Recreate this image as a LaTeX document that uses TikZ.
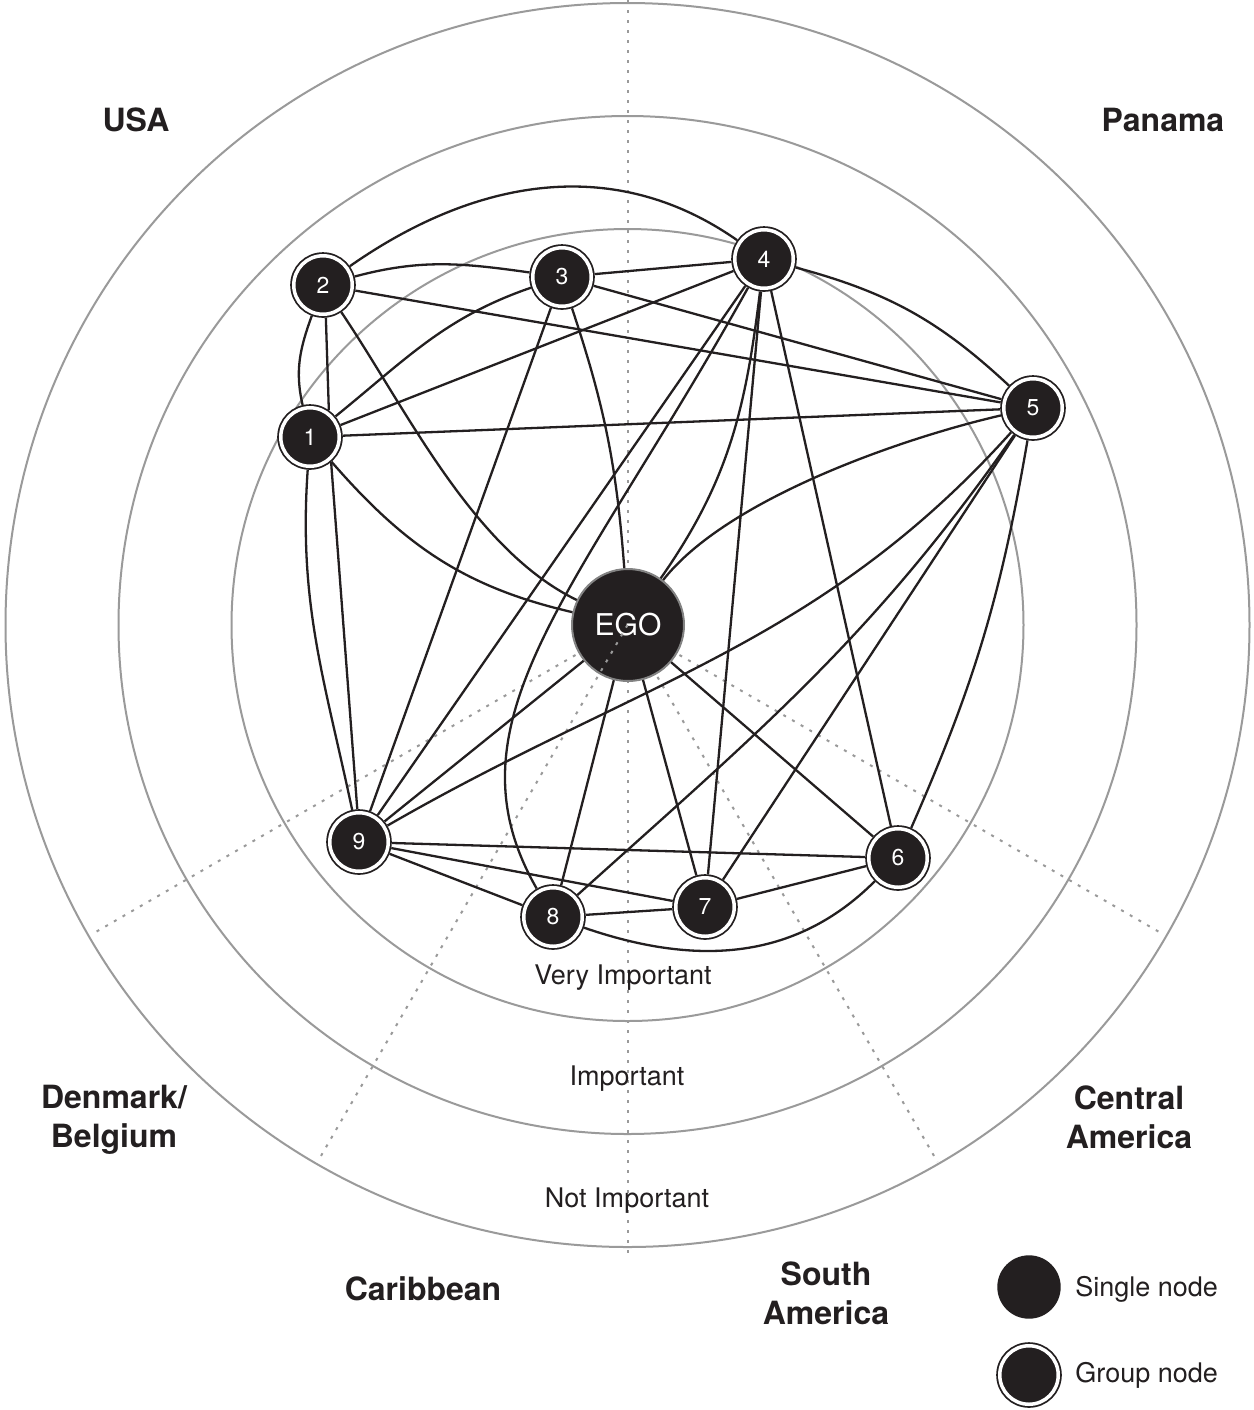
\documentclass[tikz,border=0pt]{standalone}
\usepackage{fontspec}
\setmainfont{TeX Gyre Heros}
\begin{document}
\definecolor{ink}{HTML}{231F20}
\definecolor{zonegray}{HTML}{9A9A9A}
\begin{tikzpicture}[x=0.5pt,y=0.5pt,
  zone/.style={draw=zonegray, line width=1pt},
  sector/.style={draw=zonegray, line width=1pt, dash pattern=on 1.5pt off 3.5pt},
  tie/.style={draw=ink, line width=1.15pt},
  grp/.style={circle, inner sep=0pt, minimum size=29.25pt, fill=ink, draw=ink,
    line width=0.9pt, double=white, double distance=1.75pt, outer sep=1.8pt,
    text=white, font=\fontsize{11.5}{13}\selectfont},
  single/.style={circle, inner sep=0pt, minimum size=31.7pt, fill=ink},
  egonode/.style={circle, inner sep=0pt, minimum size=56pt, fill=ink,
    draw=zonegray!85!black, line width=1pt, text=white, font=\fontsize{15}{18}\selectfont},
  region/.style={text=ink, font=\bfseries\fontsize{16}{19.5}\selectfont, align=center},
  level/.style={text=ink, font=\fontsize{13.5}{16}\selectfont, anchor=base},
  legendtext/.style={text=ink, font=\fontsize{13.5}{16}\selectfont, anchor=base west, inner sep=0pt},
]
% canvas
\path[fill=white, use as bounding box] (0,0) rectangle (1254,-1410);
\coordinate (c) at (627.5,-625);

% importance rings
\draw[zone] (c) circle[radius=396];
\draw[zone] (c) circle[radius=509];
\draw[zone] (c) circle[radius=622];

% region dividers
\draw[sector] (627.5,0) -- (627.5,-1255);
\draw[sector] (c) -- ++(210:618);
\draw[sector] (c) -- ++(300:620);
\draw[sector] (c) -- ++(330:616);

% region names
\node[region] (usa) at (136,-120) {USA};
\node[region] (panama) at (1163,-120) {Panama};
\node[region] (denbel) at (114,-1120) {Denmark/\\Belgium};
\node[region] (centam) at (1129,-1117) {Central\\America};
\node[region] (carib) at (423,-1289) {Caribbean};
\node[region] (southam) at (826,-1293) {South\\America};

% ring names
\node[level] (vimp) at (623,-984) {Very Important};
\node[level] (imp) at (627,-1085) {Important};
\node[level] (nimp) at (627,-1207) {Not Important};

% network nodes
\node[egonode] (ego) at (628,-625) {EGO};
\draw[sector] (c) -- ++(240:619);
\node[grp] (n1) at (310,-437) {1};
\node[grp] (n2) at (323,-285) {2};
\node[grp] (n3) at (562,-277) {3};
\node[grp] (n4) at (764,-259) {4};
\node[grp] (n5) at (1033,-408) {5};
\node[grp] (n6) at (898,-858) {6};
\node[grp] (n7) at (705,-907) {7};
\node[grp] (n8) at (553,-917) {8};
\node[grp] (n9) at (359,-842) {9};

% ties
\draw[tie] (n1) to[out=103,in=250] (n2);
\draw[tie] (n1.55) -- (n2.-85);
\draw[tie] (n1) to[out=39,in=199] (n3);
\draw[tie] (n1) -- (n4);
\draw[tie] (n1) -- (n5);
\draw[tie] (n1) to[out=-49,in=167] (ego);
\draw[tie] (n1) to[out=266,in=102] (n9);
\draw[tie] (n1.-50) -- (n9.93);
\draw[tie] (n2) to[out=15,in=172] (n3);
\draw[tie] (n2) to[out=35,in=145] (n4);
\draw[tie] (n2) -- (n5);
\draw[tie] (n2) to[out=-56,in=154,looseness=0.8] (ego);
\draw[tie] (n3) -- (n4);
\draw[tie] (n3) -- (n5);
\draw[tie] (n3) -- (n9);
\draw[tie] (n3) to[bend left=7] (ego);
\draw[tie] (n4) to[out=-15,in=137] (n5);
\draw[tie] (n4) -- (n9);
\draw[tie] (n4) .. controls (580,-590) and (440,-720) .. (n8);
\draw[tie] (n4) to[out=263,in=55] (ego);
\draw[tie] (n4) -- (n7);
\draw[tie] (n4) -- (n6);
\draw[tie] (n5) to[out=193,in=52,looseness=0.7] (ego);
\draw[tie] (n5) to[out=228,in=30] (n9);
\draw[tie] (n5) to[out=235,in=42] (n8);
\draw[tie] (n5) -- (n7);
\draw[tie] (n5) to[bend left=7] (n6);
\draw[tie] (n9) -- (ego);
\draw[tie] (n9) -- (n6);
\draw[tie] (n9) -- (n7);
\draw[tie] (n9) -- (n8);
\draw[tie] (ego) -- (n8);
\draw[tie] (ego) -- (n7);
\draw[tie] (ego) -- (n6);
\draw[tie] (n8) -- (n7);
\draw[tie] (n8) to[out=-19,in=225] (n6);
\draw[tie] (n7) -- (n6);

% legend
\node[single] (lsingle) at (1029,-1287) {};
\node[grp] (lgroup) at (1029,-1375) {};
\node[legendtext] (tsingle) at (1075,-1296) {Single node};
\node[legendtext] (tgroup) at (1075,-1382) {Group node};
\end{tikzpicture}
\end{document}
